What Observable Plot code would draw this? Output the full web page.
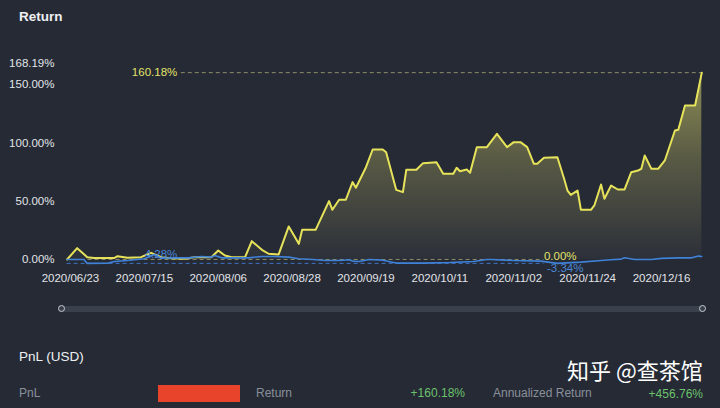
<!DOCTYPE html>
<html>
<head>
<meta charset="utf-8">
<script src="https://cdn.jsdelivr.net/npm/d3@7"></script>
<script src="https://cdn.jsdelivr.net/npm/@observablehq/plot@0.6"></script>
<style>
  html, body { margin: 0; padding: 0; background: #252a35; }
  #wrap { position: relative; width: 720px; height: 408px; overflow: hidden; background: #252a35;
          font-family: "Liberation Sans", Arial, "Noto Sans CJK SC", sans-serif; color: #e6e8ec; }
  #chart { position: absolute; left: 0; top: 0; }
  .abs { position: absolute; white-space: nowrap; }
</style>
</head>
<body>
<div id="wrap">
  <div class="abs" style="left:19px;top:9px;font-size:13.5px;font-weight:bold;color:#eef0f3;">Return</div>
  <div id="chart"></div>
  <div class="abs" style="left:62px;top:306px;width:641px;height:6px;background:#3a404c;border-radius:3px;"></div>
  <div class="abs" style="left:58px;top:305px;width:5px;height:5px;border:1.5px solid #c8ccd4;border-radius:50%;background:#3a404c;"></div>
  <div class="abs" style="left:699px;top:305px;width:5px;height:5px;border:1.5px solid #c8ccd4;border-radius:50%;background:#3a404c;"></div>
  <div class="abs" style="left:19px;top:349px;font-size:13.5px;color:#eef0f3;">PnL (USD)</div>
  <div class="abs" style="left:567px;top:357px;font-size:22px;color:#ffffff;font-family:'Noto Sans CJK SC',sans-serif;line-height:24px;">知乎 @查茶馆</div>
  <div class="abs" style="left:19px;top:386px;font-size:12px;color:#8a909a;">PnL</div>
  <div class="abs" style="left:158px;top:385px;width:82px;height:17px;background:#e8432b;"></div>
  <div class="abs" style="left:256px;top:386px;font-size:12px;color:#8a909a;">Return</div>
  <div class="abs" style="left:400px;width:65px;text-align:right;top:386px;font-size:12px;color:#6cc16c;">+160.18%</div>
  <div class="abs" style="left:493px;top:386px;font-size:12px;color:#8a909a;">Annualized Return</div>
  <div class="abs" style="left:635px;width:68px;text-align:right;top:387px;font-size:12px;color:#6cc16c;">+456.76%</div>
</div>
<script>
// ---- data ----
const strategyDates = ["2020-06-22","2020-06-25","2020-06-28","2020-06-30","2020-07-06","2020-07-07","2020-07-10","2020-07-14","2020-07-17","2020-07-20","2020-07-23","2020-07-27","2020-07-30","2020-08-04","2020-08-06","2020-08-08","2020-08-10","2020-08-14","2020-08-16","2020-08-19","2020-08-21","2020-08-24","2020-08-27","2020-08-30","2020-08-31","2020-09-04","2020-09-08","2020-09-09","2020-09-11","2020-09-13","2020-09-15","2020-09-16","2020-09-19","2020-09-21","2020-09-24","2020-09-25","2020-09-27","2020-09-28","2020-09-30","2020-10-01","2020-10-04","2020-10-06","2020-10-10","2020-10-12","2020-10-15","2020-10-16","2020-10-17","2020-10-19","2020-10-20","2020-10-22","2020-10-25","2020-10-28","2020-10-31","2020-11-02","2020-11-04","2020-11-06","2020-11-08","2020-11-09","2020-11-11","2020-11-15","2020-11-17","2020-11-18","2020-11-19","2020-11-21","2020-11-22","2020-11-25","2020-11-26","2020-11-28","2020-11-29","2020-12-01","2020-12-03","2020-12-05","2020-12-07","2020-12-09","2020-12-10","2020-12-11","2020-12-13","2020-12-15","2020-12-17","2020-12-20","2020-12-21","2020-12-23","2020-12-26","2020-12-28"];
const strategyReturn = [0,9.7,2,1.2,1.2,2.8,1.5,2,5.7,2,1,0.6,2,2,7.7,3.4,2,2,15.7,8.3,4.9,4.3,28.3,13.4,25.4,25.4,50,42.6,51.2,51.2,66.3,61.5,79.1,94.3,94.3,92,70.5,59.7,57.7,76.9,76.9,82.6,83.4,73.4,73.4,78.6,75.7,77.1,74.3,96.3,96.3,107.7,96.3,100.6,100.6,96.3,82,82,87.2,87.7,69.2,59.1,55.4,59.1,42.6,42.6,46.3,64.3,52,63.4,60,60,74.8,76.3,77.7,89.1,77.7,77.7,84.9,110.6,111.2,132,132,160.18];

const benchmarkDates = ["2020-06-22","2020-06-27","2020-06-28","2020-07-04","2020-07-06","2020-07-10","2020-07-15","2020-07-18","2020-07-20","2020-07-24","2020-07-28","2020-08-01","2020-08-04","2020-08-05","2020-08-07","2020-08-15","2020-08-19","2020-08-23","2020-08-27","2020-08-30","2020-09-03","2020-09-07","2020-09-11","2020-09-14","2020-09-15","2020-09-17","2020-09-20","2020-09-24","2020-09-28","2020-10-06","2020-10-14","2020-10-21","2020-10-25","2020-10-26","2020-11-02","2020-11-10","2020-11-15","2020-11-22","2020-11-28","2020-12-01","2020-12-04","2020-12-05","2020-12-08","2020-12-13","2020-12-16","2020-12-21","2020-12-25","2020-12-27","2020-12-28"];
const benchmarkReturn = [0,0,-3.34,-3.3,-1.7,-0.9,0.6,4.28,1.0,1.4,1.4,2.6,2,3.4,1.4,1.4,2.6,2.6,2,0.6,0,-0.9,-0.9,-0.3,-1.4,-1.7,0,-0.6,-3.1,-3.1,-2.6,-1.7,0,0,-0.9,-1.4,-3.34,-2.3,-0.9,-0.3,0.3,1.4,0,0,0.9,1.4,1.4,2.9,2.6];

const tickLabels = ["2020/06/23","2020/07/15","2020/08/06","2020/08/28","2020/09/19","2020/10/11","2020/11/02","2020/11/24","2020/12/16"];
const yTicks = [0, 50, 100, 150, 168.19];
const xDomain = ["2020-06-22", "2020-12-28"];

// mark lines (value, span start/end dates, label)
const maxLines = [{name: "strategy", value: 160.18, from: "2020-07-26", to: "2020-12-28", label: "160.18%"}];
const maxLabels = [
  {name: "strategy", value: 160.18, at: "2020-07-26", label: "160.18%"},
  {name: "benchmark", value: 4.28, at: "2020-07-26", label: "4.28%"}
];
const minLines = [
  {name: "strategy", value: 0, from: "2020-06-22", to: "2020-11-11", label: "0.00%"},
  {name: "benchmark", value: -3.34, from: "2020-06-22", to: "2020-11-11", label: "-3.34%"}
];

// ---- build ----
const parse = d3.utcParse("%Y-%m-%d");
const parseTick = d3.utcParse("%Y/%m/%d");
const strat = strategyDates.map((d, i) => ({date: parse(d), value: strategyReturn[i]}));
const bench = benchmarkDates.map((d, i) => ({date: parse(d), value: benchmarkReturn[i]}));
const ticks = tickLabels.map(parseTick);
const maxL = maxLines.map(d => ({...d, from: parse(d.from), to: parse(d.to)}));
const maxT = maxLabels.map(d => ({...d, at: parse(d.at)}));
const minL = minLines.map(d => ({...d, from: parse(d.from), to: parse(d.to)}));

const YELLOW = "#e6e35a";
const BLUE = "#3f82d8";
const dashOf = n => n === "strategy" ? "#8d8c68" : "#3d72c4";
const labelOf = n => n === "strategy" ? "#e2e16a" : "#4a86d6";

function gradientDefs() {
  const ns = "http://www.w3.org/2000/svg";
  const defs = document.createElementNS(ns, "defs");
  defs.innerHTML = '<linearGradient id="retGrad" x1="0" y1="0" x2="0" y2="1">' +
    '<stop offset="0" stop-color="#8e8e54"/>' +
    '<stop offset="0.45" stop-color="#5a5b45"/>' +
    '<stop offset="1" stop-color="#2c3039"/></linearGradient>';
  return defs;
}

const chart = Plot.plot({
  width: 720,
  height: 300,
  marginLeft: 66.6,
  marginRight: 18.7,
  marginTop: 62.8,
  marginBottom: 35.2,
  style: {background: "transparent", color: "#e2e4e8", fontFamily: "'Liberation Sans', Arial, sans-serif", fontSize: "11.5px"},
  x: {type: "utc", domain: xDomain.map(parse), ticks: ticks, tickFormat: d3.utcFormat("%Y/%m/%d"), tickSize: 0, tickPadding: 9, label: null},
  y: {domain: [-5, 168.19], ticks: yTicks, tickFormat: d => d.toFixed(2) + "%", tickSize: 0, tickPadding: 12.6, label: null},
  marks: [
    gradientDefs,
    Plot.areaY(strat, {x: "date", y: "value", fill: "url(#retGrad)"}),
    Plot.ruleY(minL, {y: "value", x1: "from", x2: "to", stroke: d => dashOf(d.name), strokeDasharray: "4,3", strokeWidth: 1}),
    Plot.ruleY(maxL, {y: "value", x1: "from", x2: "to", stroke: d => dashOf(d.name), strokeDasharray: "4,3", strokeWidth: 1}),
    Plot.lineY(strat, {x: "date", y: "value", stroke: YELLOW, strokeWidth: 2}),
    Plot.lineY(bench, {x: "date", y: "value", stroke: BLUE, strokeWidth: 1.6}),
    Plot.text(maxT, {x: "at", y: "value", text: "label", fill: d => labelOf(d.name), textAnchor: "end", dx: -4, fontSize: 11.5}),
    Plot.text(minL.filter(d => d.name === "benchmark"), {x: "to", y: "value", text: "label", fill: d => labelOf(d.name), textAnchor: "start", dx: 3, dy: 4.5, fontSize: 11.5}),
    Plot.text(minL.filter(d => d.name === "strategy"), {x: "to", y: "value", text: "label", fill: d => labelOf(d.name), textAnchor: "start", dx: 0, dy: -3.5, fontSize: 11.5})
  ]
});
document.getElementById("chart").appendChild(chart);
</script>
</body>
</html>
